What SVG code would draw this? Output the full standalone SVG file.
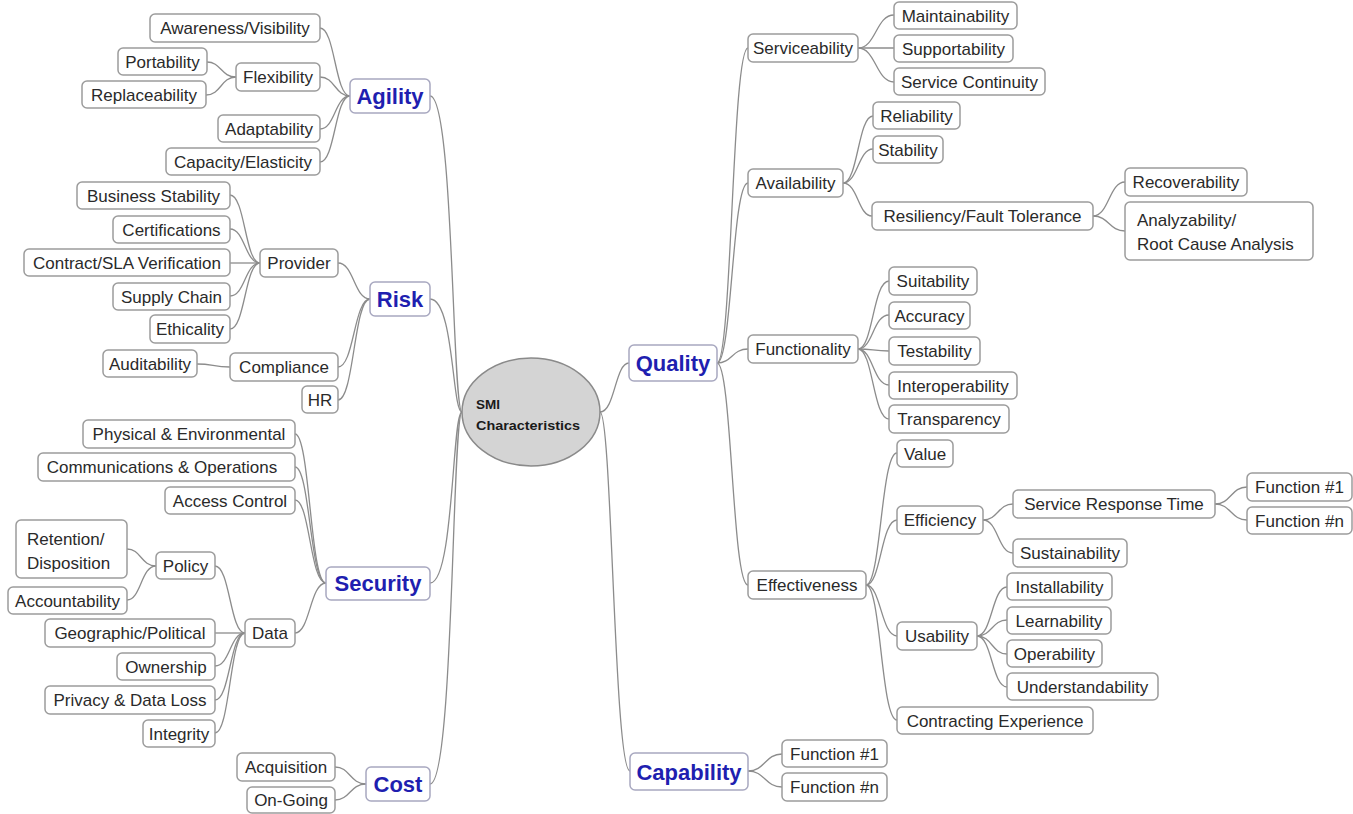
<svg xmlns="http://www.w3.org/2000/svg" width="1353" height="814" viewBox="0 0 1353 814">
<style>
.b{fill:#fff;stroke:#9c9c9c;stroke-width:1.5}
.m{fill:#fff;stroke:#a8a8c0;stroke-width:1.5}
.t{font-family:"Liberation Sans",Arial,sans-serif;font-size:17px;fill:#2a2a2a;text-anchor:middle}
.l{font-family:"Liberation Sans",Arial,sans-serif;font-size:17px;fill:#2a2a2a}
.h{font-family:"Liberation Sans",Arial,sans-serif;font-size:22px;font-weight:bold;fill:#1f1fb0;text-anchor:middle}
.c{font-family:"Liberation Sans",Arial,sans-serif;font-size:13.5px;font-weight:bold;fill:#1a1a1a}
#connectors path{fill:none;stroke:#8c8c8c;stroke-width:1.3}
</style>
<rect width="1353" height="814" fill="#fff"/>
<g id="connectors">
<path d="M320,28 C335,28 335,96 350,96"/>
<path d="M320,77 C335,77 335,96 350,96"/>
<path d="M320,129 C335,129 335,96 350,96"/>
<path d="M320,162 C335,162 335,96 350,96"/>
<path d="M207,62 C221,62 221,77 236,77"/>
<path d="M206,95 C221,95 221,77 236,77"/>
<path d="M338,263 C354,263 354,299 370,299"/>
<path d="M338,367 C354,367 354,299 370,299"/>
<path d="M338,400 C354,400 354,299 370,299"/>
<path d="M230,195 C245,195 245,263 260,263"/>
<path d="M230,229 C245,229 245,263 260,263"/>
<path d="M230,263 C245,263 245,263 260,263"/>
<path d="M230,296 C245,296 245,263 260,263"/>
<path d="M230,329 C245,329 245,263 260,263"/>
<path d="M197,364 C213,364 213,367 230,367"/>
<path d="M295,434 C310,434 310,583 326,583"/>
<path d="M295,467 C310,467 310,583 326,583"/>
<path d="M295,500 C310,500 310,583 326,583"/>
<path d="M295,633 C310,633 310,583 326,583"/>
<path d="M215,566 C230,566 230,633 245,633"/>
<path d="M215,633 C230,633 230,633 245,633"/>
<path d="M215,666 C230,666 230,633 245,633"/>
<path d="M215,700 C230,700 230,633 245,633"/>
<path d="M215,733 C230,733 230,633 245,633"/>
<path d="M127,549 C141,549 141,566 156,566"/>
<path d="M127,600 C141,600 141,566 156,566"/>
<path d="M335,767 C350,767 350,784 366,784"/>
<path d="M335,800 C350,800 350,784 366,784"/>
<path d="M430,96 C454,96 452,412 462,412"/>
<path d="M430,299 C454,299 452,412 462,412"/>
<path d="M430,583 C454,583 452,412 462,412"/>
<path d="M430,784 C454,784 452,412 462,412"/>
<path d="M600,412 C615,412 615,363 629,363"/>
<path d="M600,412 C612,412 614,771 630,771"/>
<path d="M717,363 C732,363 732,48 748,48"/>
<path d="M717,363 C732,363 732,183 748,183"/>
<path d="M717,363 C732,363 732,349 748,349"/>
<path d="M717,363 C732,363 732,585 748,585"/>
<path d="M858,48 C876,48 876,15 894,15"/>
<path d="M858,48 C876,48 876,48 894,48"/>
<path d="M858,48 C876,48 876,82 894,82"/>
<path d="M843,183 C858,183 858,116 873,116"/>
<path d="M843,183 C858,183 858,149 873,149"/>
<path d="M843,183 C858,183 858,216 872,216"/>
<path d="M1093,216 C1109,216 1109,182 1125,182"/>
<path d="M1093,216 C1109,216 1109,231 1125,231"/>
<path d="M858,349 C873,349 873,281 889,281"/>
<path d="M858,349 C873,349 873,315 889,315"/>
<path d="M858,349 C873,349 873,351 889,351"/>
<path d="M858,349 C873,349 873,385 889,385"/>
<path d="M858,349 C873,349 873,419 889,419"/>
<path d="M866,585 C881,585 881,453 897,453"/>
<path d="M866,585 C881,585 881,520 897,520"/>
<path d="M866,585 C881,585 881,636 897,636"/>
<path d="M866,585 C881,585 881,720 897,720"/>
<path d="M983,520 C998,520 998,504 1013,504"/>
<path d="M983,520 C998,520 998,553 1013,553"/>
<path d="M1215,504 C1231,504 1231,487 1247,487"/>
<path d="M1215,504 C1231,504 1231,520 1247,520"/>
<path d="M977,636 C992,636 992,587 1007,587"/>
<path d="M977,636 C992,636 992,620 1007,620"/>
<path d="M977,636 C992,636 992,654 1007,654"/>
<path d="M977,636 C992,636 992,687 1007,687"/>
<path d="M748,771 C765,771 765,754 782,754"/>
<path d="M748,771 C765,771 765,787 782,787"/>
</g>
<g id="center"><ellipse cx="531" cy="412" rx="69" ry="54" fill="#d4d4d4" stroke="#8a8a8a" stroke-width="1.5"/><text class="c" x="476" y="409">SMI</text><text class="c" x="476" y="430" textLength="104" lengthAdjust="spacingAndGlyphs">Characteristics</text></g>
<g id="agility"><rect class="m" x="350" y="79" width="80" height="34" rx="5"/><text class="h" x="390" y="104">Agility</text></g>
<g id="awareness"><rect class="b" x="150" y="14" width="170" height="28" rx="5"/><text class="t" x="235" y="34">Awareness/Visibility</text></g>
<g id="portability"><rect class="b" x="118" y="48" width="89" height="27" rx="5"/><text class="t" x="162.5" y="68">Portability</text></g>
<g id="flexibility"><rect class="b" x="236" y="63" width="84" height="28" rx="5"/><text class="t" x="278" y="83">Flexibility</text></g>
<g id="replaceability"><rect class="b" x="82" y="81" width="124" height="27" rx="5"/><text class="t" x="144" y="101">Replaceability</text></g>
<g id="adaptability"><rect class="b" x="218" y="115" width="102" height="27" rx="5"/><text class="t" x="269" y="135">Adaptability</text></g>
<g id="capacity"><rect class="b" x="166" y="148" width="154" height="27" rx="5"/><text class="t" x="243" y="168">Capacity/Elasticity</text></g>
<g id="risk"><rect class="m" x="370" y="282" width="60" height="34" rx="5"/><text class="h" x="400" y="307">Risk</text></g>
<g id="business-stability"><rect class="b" x="77" y="182" width="153" height="27" rx="5"/><text class="t" x="153.5" y="202">Business Stability</text></g>
<g id="certifications"><rect class="b" x="113" y="216" width="117" height="27" rx="5"/><text class="t" x="171.5" y="236">Certifications</text></g>
<g id="contract-sla"><rect class="b" x="24" y="249" width="206" height="27" rx="5"/><text class="t" x="127" y="269">Contract/SLA Verification</text></g>
<g id="provider"><rect class="b" x="260" y="249" width="78" height="28" rx="5"/><text class="t" x="299" y="269">Provider</text></g>
<g id="supply-chain"><rect class="b" x="113" y="283" width="117" height="27" rx="5"/><text class="t" x="171.5" y="303">Supply Chain</text></g>
<g id="ethicality"><rect class="b" x="150" y="315" width="80" height="28" rx="5"/><text class="t" x="190" y="335">Ethicality</text></g>
<g id="auditability"><rect class="b" x="103" y="350" width="94" height="27" rx="5"/><text class="t" x="150" y="370">Auditability</text></g>
<g id="compliance"><rect class="b" x="230" y="353" width="108" height="28" rx="5"/><text class="t" x="284" y="373">Compliance</text></g>
<g id="hr"><rect class="b" x="302" y="386" width="36" height="27" rx="5"/><text class="t" x="320" y="406">HR</text></g>
<g id="security"><rect class="m" x="326" y="567" width="104" height="33" rx="5"/><text class="h" x="378" y="591">Security</text></g>
<g id="physical"><rect class="b" x="83" y="420" width="212" height="28" rx="5"/><text class="t" x="189" y="440">Physical &amp; Environmental</text></g>
<g id="communications"><rect class="b" x="38" y="453" width="257" height="28" rx="5"/><text class="t" x="162" y="473">Communications &amp; Operations</text></g>
<g id="access-control"><rect class="b" x="165" y="487" width="130" height="27" rx="5"/><text class="t" x="230" y="507">Access Control</text></g>
<g id="retention"><rect class="b" x="16" y="520" width="111" height="58" rx="5"/><text class="l" x="27" y="545">Retention/</text><text class="l" x="27" y="569">Disposition</text></g>
<g id="policy"><rect class="b" x="156" y="552" width="59" height="27" rx="5"/><text class="t" x="185.5" y="572">Policy</text></g>
<g id="accountability"><rect class="b" x="8" y="587" width="119" height="27" rx="5"/><text class="t" x="67.5" y="607">Accountability</text></g>
<g id="geographic"><rect class="b" x="45" y="619" width="170" height="28" rx="5"/><text class="t" x="130" y="639">Geographic/Political</text></g>
<g id="data"><rect class="b" x="245" y="619" width="50" height="28" rx="5"/><text class="t" x="270" y="639">Data</text></g>
<g id="ownership"><rect class="b" x="117" y="653" width="98" height="27" rx="5"/><text class="t" x="166" y="673">Ownership</text></g>
<g id="privacy"><rect class="b" x="45" y="686" width="170" height="28" rx="5"/><text class="t" x="130" y="706">Privacy &amp; Data Loss</text></g>
<g id="integrity"><rect class="b" x="143" y="720" width="72" height="27" rx="5"/><text class="t" x="179" y="740">Integrity</text></g>
<g id="cost"><rect class="m" x="366" y="767" width="64" height="34" rx="5"/><text class="h" x="398" y="792">Cost</text></g>
<g id="acquisition"><rect class="b" x="237" y="753" width="98" height="28" rx="5"/><text class="t" x="286" y="773">Acquisition</text></g>
<g id="on-going"><rect class="b" x="247" y="787" width="88" height="26" rx="5"/><text class="t" x="291" y="806">On-Going</text></g>
<g id="quality"><rect class="m" x="629" y="345" width="88" height="36" rx="5"/><text class="h" x="673" y="371">Quality</text></g>
<g id="serviceability"><rect class="b" x="748" y="34" width="110" height="28" rx="5"/><text class="t" x="803" y="54">Serviceability</text></g>
<g id="maintainability"><rect class="b" x="894" y="2" width="123" height="27" rx="5"/><text class="t" x="955.5" y="22">Maintainability</text></g>
<g id="supportability"><rect class="b" x="894" y="35" width="119" height="27" rx="5"/><text class="t" x="953.5" y="55">Supportability</text></g>
<g id="service-continuity"><rect class="b" x="894" y="68" width="151" height="27" rx="5"/><text class="t" x="969.5" y="88">Service Continuity</text></g>
<g id="availability"><rect class="b" x="748" y="169" width="95" height="28" rx="5"/><text class="t" x="795.5" y="189">Availability</text></g>
<g id="reliability"><rect class="b" x="873" y="102" width="87" height="27" rx="5"/><text class="t" x="916.5" y="122">Reliability</text></g>
<g id="stability"><rect class="b" x="873" y="136" width="70" height="27" rx="5"/><text class="t" x="908" y="156">Stability</text></g>
<g id="resiliency"><rect class="b" x="872" y="202" width="221" height="28" rx="5"/><text class="t" x="982.5" y="222">Resiliency/Fault Tolerance</text></g>
<g id="recoverability"><rect class="b" x="1125" y="168" width="122" height="28" rx="5"/><text class="t" x="1186" y="188">Recoverability</text></g>
<g id="analyzability"><rect class="b" x="1125" y="202" width="188" height="58" rx="5"/><text class="l" x="1137" y="226">Analyzability/</text><text class="l" x="1137" y="250">Root Cause Analysis</text></g>
<g id="functionality"><rect class="b" x="748" y="335" width="110" height="28" rx="5"/><text class="t" x="803" y="355">Functionality</text></g>
<g id="suitability"><rect class="b" x="889" y="267" width="88" height="28" rx="5"/><text class="t" x="933" y="287">Suitability</text></g>
<g id="accuracy"><rect class="b" x="889" y="302" width="81" height="27" rx="5"/><text class="t" x="929.5" y="322">Accuracy</text></g>
<g id="testability"><rect class="b" x="889" y="337" width="91" height="28" rx="5"/><text class="t" x="934.5" y="357">Testability</text></g>
<g id="interoperability"><rect class="b" x="889" y="372" width="128" height="27" rx="5"/><text class="t" x="953" y="392">Interoperability</text></g>
<g id="transparency"><rect class="b" x="889" y="405" width="120" height="28" rx="5"/><text class="t" x="949" y="425">Transparency</text></g>
<g id="effectiveness"><rect class="b" x="748" y="571" width="118" height="28" rx="5"/><text class="t" x="807" y="591">Effectiveness</text></g>
<g id="value"><rect class="b" x="897" y="440" width="56" height="27" rx="5"/><text class="t" x="925" y="460">Value</text></g>
<g id="efficiency"><rect class="b" x="897" y="506" width="86" height="28" rx="5"/><text class="t" x="940" y="526">Efficiency</text></g>
<g id="service-response-time"><rect class="b" x="1013" y="490" width="202" height="28" rx="5"/><text class="t" x="1114" y="510">Service Response Time</text></g>
<g id="srt-function-1"><rect class="b" x="1247" y="473" width="105" height="28" rx="5"/><text class="t" x="1299.5" y="493">Function #1</text></g>
<g id="srt-function-n"><rect class="b" x="1247" y="507" width="105" height="27" rx="5"/><text class="t" x="1299.5" y="527">Function #n</text></g>
<g id="sustainability"><rect class="b" x="1013" y="539" width="114" height="28" rx="5"/><text class="t" x="1070" y="559">Sustainability</text></g>
<g id="usability"><rect class="b" x="897" y="622" width="80" height="28" rx="5"/><text class="t" x="937" y="642">Usability</text></g>
<g id="installability"><rect class="b" x="1007" y="573" width="105" height="27" rx="5"/><text class="t" x="1059.5" y="593">Installability</text></g>
<g id="learnability"><rect class="b" x="1007" y="607" width="104" height="27" rx="5"/><text class="t" x="1059" y="627">Learnability</text></g>
<g id="operability"><rect class="b" x="1007" y="640" width="95" height="27" rx="5"/><text class="t" x="1054.5" y="660">Operability</text></g>
<g id="understandability"><rect class="b" x="1007" y="673" width="151" height="27" rx="5"/><text class="t" x="1082.5" y="693">Understandability</text></g>
<g id="contracting-experience"><rect class="b" x="897" y="707" width="196" height="27" rx="5"/><text class="t" x="995" y="727">Contracting Experience</text></g>
<g id="capability"><rect class="m" x="630" y="753" width="118" height="37" rx="5"/><text class="h" x="689" y="780">Capability</text></g>
<g id="cap-function-1"><rect class="b" x="782" y="740" width="105" height="27" rx="5"/><text class="t" x="834.5" y="760">Function #1</text></g>
<g id="cap-function-n"><rect class="b" x="782" y="773" width="105" height="28" rx="5"/><text class="t" x="834.5" y="793">Function #n</text></g>
</svg>
